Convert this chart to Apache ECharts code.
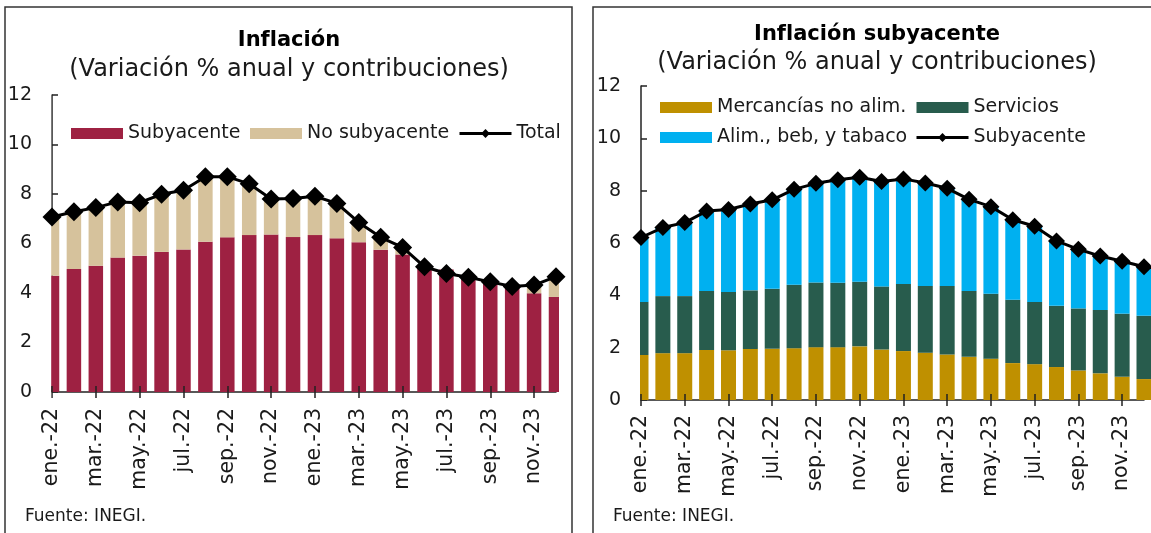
<!DOCTYPE html>
<html lang="es">
<head>
<meta charset="utf-8">
<title>Inflación</title>
<script src="https://cdn.jsdelivr.net/npm/echarts@6/dist/echarts.min.js"></script>
<style>
html, body { margin: 0; padding: 0; background: #fff; }
#main { width: 1151px; height: 533px; }
</style>
</head>
<body>
<div id="main"></div>
<script>
// meses (ene.-22 a dic.-23)
var meses = ['ene.-22', 'feb.-22', 'mar.-22', 'abr.-22', 'may.-22', 'jun.-22',
	'jul.-22', 'ago.-22', 'sep.-22', 'oct.-22', 'nov.-22', 'dic.-22',
	'ene.-23', 'feb.-23', 'mar.-23', 'abr.-23', 'may.-23', 'jun.-23',
	'jul.-23', 'ago.-23', 'sep.-23', 'oct.-23', 'nov.-23', 'dic.-23'];

// Inflacion: contribuciones
var subyacente = [4.70, 4.97, 5.10, 5.43, 5.51, 5.66, 5.76, 6.07, 6.25, 6.34, 6.36, 6.26,
	6.34, 6.21, 6.05, 5.75, 5.56, 5.10, 4.95, 4.62, 4.40, 4.20, 3.99, 3.84];
var noSubyacente = [2.37, 2.31, 2.35, 2.25, 2.14, 2.33, 2.39, 2.63, 2.45, 2.07, 1.44, 1.56,
	1.57, 1.41, 0.80, 0.50, 0.28, -0.08, -0.17, 0.02, 0.05, 0.06, 0.33, 0.82];
var total = [7.07, 7.28, 7.45, 7.68, 7.65, 7.99, 8.15, 8.70, 8.70, 8.41, 7.80, 7.82,
	7.91, 7.62, 6.85, 6.25, 5.84, 5.06, 4.79, 4.64, 4.45, 4.26, 4.32, 4.66];

// Inflacion subyacente: contribuciones
var mercancias = [1.72, 1.79, 1.79, 1.91, 1.90, 1.95, 1.96, 1.98, 2.02, 2.02, 2.05, 1.93,
	1.87, 1.81, 1.74, 1.65, 1.58, 1.41, 1.37, 1.26, 1.13, 1.02, 0.89, 0.80];
var servicios = [2.03, 2.18, 2.18, 2.26, 2.23, 2.24, 2.29, 2.42, 2.47, 2.46, 2.47, 2.41,
	2.56, 2.55, 2.62, 2.52, 2.48, 2.42, 2.38, 2.34, 2.37, 2.42, 2.41, 2.42];
var alimentos = [2.46, 2.62, 2.81, 3.05, 3.15, 3.30, 3.40, 3.65, 3.79, 3.94, 3.99, 4.01,
	4.02, 3.93, 3.73, 3.50, 3.33, 3.06, 2.89, 2.48, 2.26, 2.06, 2.00, 1.87];
var subyacenteTotal = [6.21, 6.59, 6.78, 7.22, 7.28, 7.49, 7.65, 8.05, 8.28, 8.42, 8.51, 8.35,
	8.45, 8.29, 8.09, 7.67, 7.39, 6.89, 6.64, 6.08, 5.76, 5.50, 5.30, 5.09];

var FONT = 'DejaVu Sans';
var TXT = '#1a1a1a';

var myChart = echarts.init(document.getElementById('main'));

function ejeX(grid, margen) {
	return {
		type: 'category', gridIndex: grid, data: meses, boundaryGap: false,
		axisLine: { lineStyle: { color: '#222', width: 1.5 } },
		axisTick: { interval: 1, length: 6, lineStyle: { color: '#222', width: 1.5 } },
		axisLabel: { interval: 1, rotate: 90, margin: margen, fontFamily: FONT, fontSize: 20.5, color: TXT },
		splitLine: { show: false }
	};
}
// eje "fantasma" solo para las marcas hacia dentro
function ejeMarcas(grid) {
	return {
		type: 'category', gridIndex: grid, data: meses, boundaryGap: false, position: 'bottom', z: 10,
		axisLine: { show: false },
		axisTick: { inside: true, interval: 1, length: 6, lineStyle: { color: '#222', width: 1.5 } },
		axisLabel: { show: false },
		splitLine: { show: false }
	};
}
function ejeY(grid) {
	return {
		type: 'value', gridIndex: grid, min: 0, max: 12, interval: 2,
		axisLine: { show: true, lineStyle: { color: '#222', width: 1.5 } },
		axisTick: { show: true, inside: true, length: 6, lineStyle: { color: '#222', width: 1.5 } },
		axisLabel: { margin: 20, fontFamily: FONT, fontSize: 19, color: TXT },
		splitLine: { show: false }
	};
}
function leyenda(items, x, y, orient) {
	return {
		data: items, left: x, top: y, orient: orient || 'horizontal', itemGap: 11,
		itemWidth: 52, itemHeight: 11, padding: 0,
		lineStyle: { width: 3 },
		textStyle: { fontFamily: FONT, fontSize: 19, color: TXT }
	};
}
function tapa(x, y, w, h) {
	// cubre la mitad de la barra que sale del area del grafico
	return { type: 'rect', z: 3, silent: true, shape: { x: x, y: y, width: w, height: h },
		style: { fill: '#fff' } };
}

var option = {
	animation: false,
	grid: [
		{ left: 52, top: 95, right: 595, bottom: 141 },
		{ left: 641, top: 86, right: 7, bottom: 133 }
	],
	xAxis: [ejeX(0, 16), ejeX(1, 15), ejeMarcas(0), ejeMarcas(1)],
	yAxis: [ejeY(0), ejeY(1)],
	legend: [
		leyenda([{ name: 'Subyacente', icon: 'rect' }], 71, 124),
		leyenda([{ name: 'No subyacente', icon: 'rect' }], 250, 124),
		leyenda(['Total'], 458, 124),
		leyenda([{ name: 'Mercancías no alim.', icon: 'rect' }, { name: 'Alim., beb, y tabaco', icon: 'rect' }],
			660, 98, 'vertical'),
		leyenda([{ name: 'Servicios', icon: 'rect' }, 'Subyacente '], 915, 98, 'vertical')
	],
	series: [
		{ name: 'Subyacente', type: 'bar', stack: 'inf', xAxisIndex: 0, yAxisIndex: 0,
			barWidth: 14.5, itemStyle: { color: '#9E2142' }, data: subyacente },
		{ name: 'No subyacente', type: 'bar', stack: 'inf', xAxisIndex: 0, yAxisIndex: 0,
			barWidth: 14.5, itemStyle: { color: '#D6C29C' }, data: noSubyacente },
		{ name: 'Total', type: 'line', xAxisIndex: 0, yAxisIndex: 0, z: 5,
			symbol: 'diamond', symbolSize: 19, showAllSymbol: true,
			lineStyle: { color: '#000', width: 3 }, itemStyle: { color: '#000' }, data: total },

		{ name: 'Mercancías no alim.', type: 'bar', stack: 'sub', xAxisIndex: 1, yAxisIndex: 1,
			barWidth: 15, itemStyle: { color: '#BF9000' }, data: mercancias },
		{ name: 'Servicios', type: 'bar', stack: 'sub', xAxisIndex: 1, yAxisIndex: 1,
			barWidth: 15, itemStyle: { color: '#285C4D' }, data: servicios },
		{ name: 'Alim., beb, y tabaco', type: 'bar', stack: 'sub', xAxisIndex: 1, yAxisIndex: 1,
			barWidth: 15, itemStyle: { color: '#00B0F0' }, data: alimentos },
		{ name: 'Subyacente ', type: 'line', xAxisIndex: 1, yAxisIndex: 1, z: 5,
			symbol: 'diamond', symbolSize: 17, showAllSymbol: true,
			lineStyle: { color: '#000', width: 3 }, itemStyle: { color: '#000' }, data: subyacenteTotal }
	],
	graphic: [
		tapa(38, 90, 13.2, 310),
		tapa(559, 90, 12, 310),
		tapa(627, 80, 13, 330),
		// marcos de los paneles
		{ type: 'rect', z: 4, shape: { x: 5, y: 7, width: 567, height: 540 },
			style: { fill: 'none', stroke: '#333', lineWidth: 1.5 }, silent: true },
		{ type: 'rect', z: 4, shape: { x: 593, y: 7, width: 570, height: 540 },
			style: { fill: 'none', stroke: '#333', lineWidth: 1.5 }, silent: true },
		// titulos
		{ type: 'text', x: 289, y: 41, style: { text: 'Inflación', fontFamily: FONT, fontSize: 21,
			fontWeight: 'bold', fill: '#000', align: 'center', verticalAlign: 'middle' } },
		{ type: 'text', x: 289, y: 70, style: { text: '(Variación % anual y contribuciones)', fontFamily: FONT,
			fontSize: 24, fill: TXT, align: 'center', verticalAlign: 'middle' } },
		{ type: 'text', x: 877, y: 35, style: { text: 'Inflación subyacente', fontFamily: FONT, fontSize: 21,
			fontWeight: 'bold', fill: '#000', align: 'center', verticalAlign: 'middle' } },
		{ type: 'text', x: 877, y: 63, style: { text: '(Variación % anual y contribuciones)', fontFamily: FONT,
			fontSize: 24, fill: TXT, align: 'center', verticalAlign: 'middle' } },
		// fuentes
		{ type: 'text', x: 25, y: 517, style: { text: 'Fuente: INEGI.', fontFamily: FONT, fontSize: 17,
			fill: TXT, verticalAlign: 'middle' } },
		{ type: 'text', x: 613, y: 517, style: { text: 'Fuente: INEGI.', fontFamily: FONT, fontSize: 17,
			fill: TXT, verticalAlign: 'middle' } }
	]
};

myChart.setOption(option);
</script>
</body>
</html>
